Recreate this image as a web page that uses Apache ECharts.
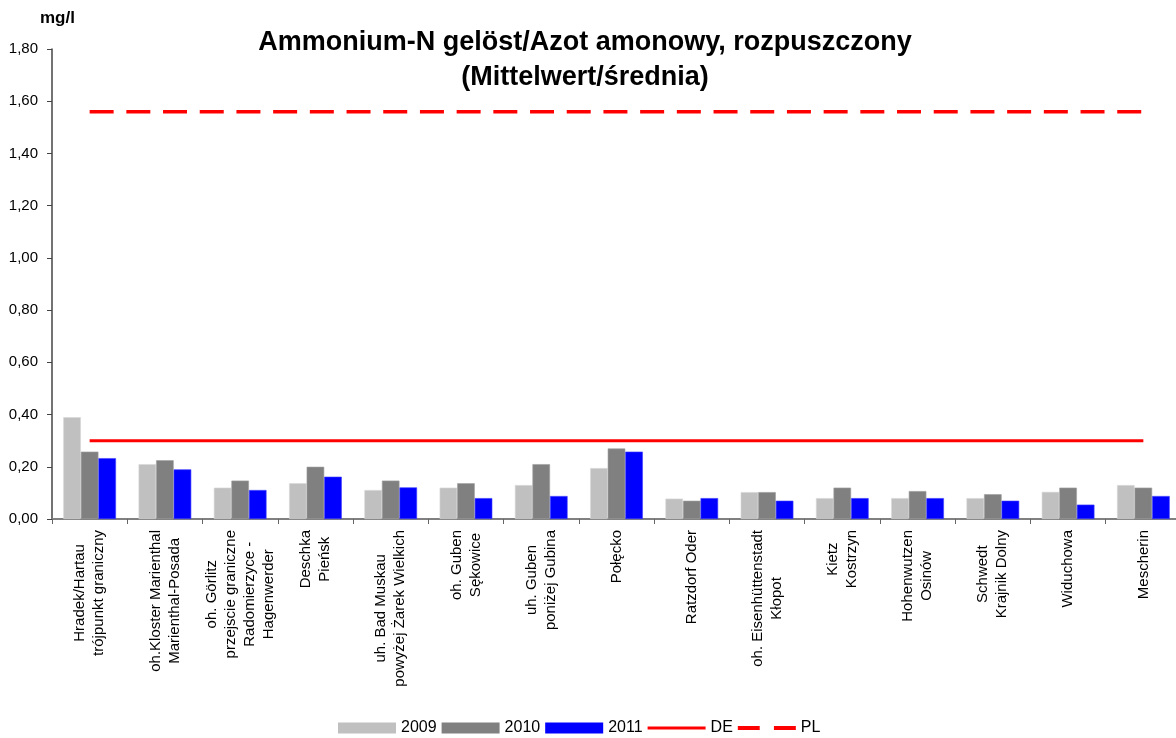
<!DOCTYPE html>
<html>
<head>
<meta charset="utf-8">
<title>Ammonium-N</title>
<script src="https://cdn.jsdelivr.net/npm/echarts@6/dist/echarts.min.js"></script>
<style>
  html, body { margin: 0; padding: 0; background: #fff; }
  #chart { width: 1176px; height: 738px; }
</style>
</head>
<body>
<div id="chart"></div>
<script>
  // measuring points (multi-line labels as in the original)
  const stations = [
    'Hradek/Hartau\ntrójpunkt graniczny',
    'oh.Kloster Marienthal\nMarienthal-Posada',
    'oh. Görlitz\nprzejscie graniczne\nRadomierzyce -\nHagenwerder',
    'Deschka\nPieńsk',
    'uh. Bad Muskau\npowyżej Żarek Wielkich',
    'oh. Guben\nSękowice',
    'uh. Guben\nponiżej Gubina',
    'Połęcko',
    'Ratzdorf Oder',
    'oh. Eisenhüttenstadt\nKłopot',
    'Kietz\nKostrzyn',
    'Hohenwutzen\nOsinów',
    'Schwedt\nKrajnik Dolny',
    'Widuchowa',
    'Mescherin',
  ];

  const mean2009 = [0.39, 0.21, 0.12, 0.137, 0.111, 0.12, 0.13, 0.195, 0.078, 0.103, 0.08, 0.08, 0.08, 0.104, 0.13];
  const mean2010 = [0.258, 0.225, 0.147, 0.2, 0.147, 0.137, 0.21, 0.27, 0.07, 0.103, 0.12, 0.107, 0.095, 0.12, 0.12];
  const mean2011 = [0.233, 0.19, 0.111, 0.162, 0.121, 0.08, 0.088, 0.258, 0.08, 0.07, 0.08, 0.08, 0.07, 0.055, 0.088];

  // limit values
  const limitDE = [0.3, 0.3, 0.3, 0.3, 0.3, 0.3, 0.3, 0.3, 0.3, 0.3, 0.3, 0.3, 0.3, 0.3, 0.3];
  const limitPL = [1.56, 1.56, 1.56, 1.56, 1.56, 1.56, 1.56, 1.56, 1.56, 1.56, 1.56, 1.56, 1.56, 1.56, 1.56];

  const yTicks = { min: 0, max: 1.8, step: 0.2 };

  const font = 'Arial, "Liberation Sans", sans-serif';

  const chart = echarts.init(document.getElementById('chart'));

  const barSeries = (name, data, color, border) => ({
    name,
    type: 'bar',
    data,
    barGap: '0%',
    barCategoryGap: '30%',
    itemStyle: { color, borderColor: border, borderWidth: 0.6 },
    emphasis: { disabled: true },
  });

  chart.setOption({
    animation: false,
    textStyle: { fontFamily: font },
    title: {
      text: 'Ammonium-N gelöst/Azot amonowy, rozpuszczony\n(Mittelwert/średnia)',
      left: 585,
      top: 25,
      textAlign: 'center',
      padding: 0,
      textStyle: {
        fontFamily: font,
        fontSize: 27,
        fontWeight: 'bold',
        lineHeight: 35,
        color: '#000',
      },
    },
    graphic: [
      {
        type: 'text',
        left: 40,
        top: 10,
        style: {
          text: 'mg/l',
          font: 'bold 17px ' + font,
          fill: '#000',
        },
      },
    ],
    legend: {
      left: 338,
      top: 720,
      padding: 0,
      itemWidth: 58,
      itemHeight: 11,
      itemGap: 5,
      itemStyle: { borderWidth: 0 },
      textStyle: { fontFamily: font, fontSize: 16, color: '#000' },
      data: [
        { name: '2009', icon: 'rect' },
        { name: '2010', icon: 'rect' },
        { name: '2011', icon: 'rect' },
        { name: 'DE', icon: 'path://M0,0H58V3H0Z' },
        { name: 'PL', icon: 'path://M0,0H20V3.5H0Z M33,0H53V3.5H33Z' },
      ],
    },
    grid: {
      left: 52,
      top: 49,
      width: 1129,
      height: 470,
      outerBoundsMode: 'none',
      containLabel: false,
    },
    xAxis: {
      type: 'category',
      data: stations,
      boundaryGap: true,
      axisLine: { lineStyle: { color: '#808080', width: 2 } },
      axisTick: { show: true, interval: 0, length: 5, lineStyle: { color: '#666' } },
      axisLabel: {
        interval: 0,
        rotate: 90,
        margin: 11,
        fontFamily: font,
        fontSize: 15,
        lineHeight: 19,
        color: '#000',
        formatter: (v) => v.split('\n').map((l) => '{c|' + l + '}').join('\n'),
        rich: {
          c: { align: 'center', fontFamily: font, fontSize: 15, lineHeight: 19, color: '#000' },
        },
      },
      splitLine: { show: false },
    },
    yAxis: {
      type: 'value',
      min: yTicks.min,
      max: yTicks.max,
      interval: yTicks.step,
      axisLine: { show: true, lineStyle: { color: '#444', width: 1.5 } },
      axisTick: { show: true, length: 5, lineStyle: { color: '#444' } },
      axisLabel: {
        margin: 14,
        fontFamily: font,
        fontSize: 15,
        color: '#000',
        formatter: (v) => v.toFixed(2).replace('.', ','),
      },
      splitLine: { show: false },
    },
    series: [
      barSeries('2009', mean2009, '#C0C0C0', '#d8d8d8'),
      barSeries('2010', mean2010, '#808080', '#a0a0a0'),
      barSeries('2011', mean2011, '#0000FF', '#4040ff'),
      {
        name: 'DE',
        type: 'line',
        data: limitDE,
        symbol: 'none',
        z: 5,
        lineStyle: { color: '#FF0000', width: 3 },
        itemStyle: { color: '#FF0000' },
        emphasis: { disabled: true },
      },
      {
        name: 'PL',
        type: 'line',
        data: limitPL,
        symbol: 'none',
        z: 5,
        lineStyle: { color: '#FF0000', width: 3.5, type: [24, 12.7] },
        itemStyle: { color: '#FF0000' },
        emphasis: { disabled: true },
      },
    ],
  });
</script>
</body>
</html>
